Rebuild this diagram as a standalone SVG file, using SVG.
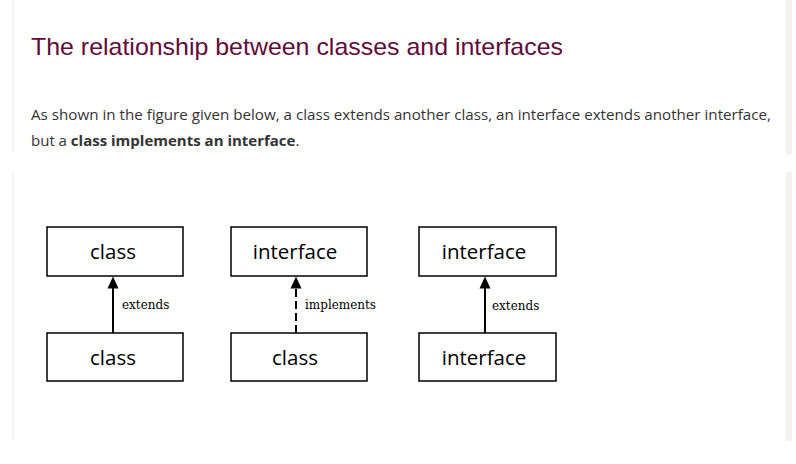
<svg xmlns="http://www.w3.org/2000/svg" width="796" height="464" viewBox="0 0 796 464">
<defs>
<path id="head" d="M-5.5,12 L0,0 L5.5,12 Z" fill="#000"/>
</defs>
<style>
.box{fill:#fff;stroke:#000;stroke-width:1.5}
.bt{font-family:"Open Sans","DejaVu Sans",sans-serif;font-size:20.5px;fill:#000;text-anchor:middle}
.lbl{font-family:"DejaVu Serif","Liberation Serif",serif;font-size:12px;fill:#000}
.conn{stroke:#000;stroke-width:2;fill:none}
.para{font-family:"Open Sans","Liberation Sans",sans-serif;font-size:15px;fill:#333}
</style>
<rect width="796" height="464" fill="#fff"/>
<rect x="12.5" y="0" width="1" height="153" fill="#ececec"/>
<rect x="786" y="0" width="6" height="154" fill="#f6f1f1"/>
<rect x="12.5" y="172" width="1" height="269" fill="#ececec"/>
<rect x="786" y="172" width="6" height="269" fill="#f6f1f1"/>
<text x="31" y="55" font-family="Liberation Sans, Arial, sans-serif" font-size="24" fill="#610b38" textLength="532" lengthAdjust="spacingAndGlyphs">The relationship between classes and interfaces</text>
<text class="para" x="31" y="120" textLength="740" lengthAdjust="spacingAndGlyphs">As shown in the figure given below, a class extends another class, an interface extends another interface,</text>
<text class="para" x="31" y="146">but a <tspan font-weight="bold">class implements an interface</tspan>.</text>
<g id="connectors">
<line class="conn" x1="113" y1="333" x2="113" y2="287"/>
<use href="#head" x="113" y="276.5"/>
<line class="conn" x1="296" y1="333" x2="296" y2="287" stroke-dasharray="8,4"/>
<use href="#head" x="296" y="276.5"/>
<line class="conn" x1="485" y1="333" x2="485" y2="287"/>
<use href="#head" x="485" y="276.5"/>
<text class="lbl" x="122" y="309">extends</text>
<text class="lbl" x="305" y="309">implements</text>
<text class="lbl" x="492" y="310">extends</text>
</g>
<g id="n1"><rect class="box" x="47" y="227" width="136" height="49"/><text class="bt" x="113" y="259">class</text></g>
<g id="n2"><rect class="box" x="47" y="333" width="136" height="48"/><text class="bt" x="113" y="365">class</text></g>
<g id="n3"><rect class="box" x="231" y="227" width="136" height="49"/><text class="bt" x="295" y="259">interface</text></g>
<g id="n4"><rect class="box" x="231" y="333" width="136" height="48"/><text class="bt" x="295" y="365">class</text></g>
<g id="n5"><rect class="box" x="419" y="227" width="137" height="49"/><text class="bt" x="484" y="259">interface</text></g>
<g id="n6"><rect class="box" x="419" y="333" width="137" height="48"/><text class="bt" x="484" y="365">interface</text></g>
</svg>
